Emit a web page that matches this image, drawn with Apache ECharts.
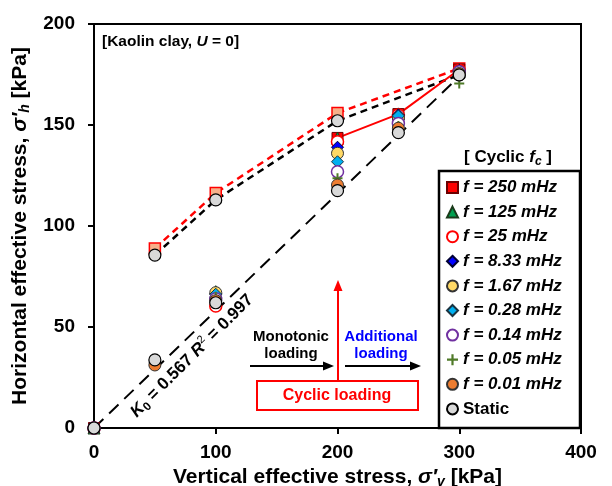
<!DOCTYPE html>
<html>
<head>
<meta charset="utf-8">
<script src="https://cdn.jsdelivr.net/npm/echarts@6/dist/echarts.min.js"></script>
<style>html,body{margin:0;padding:0;background:#fff;}#c{width:612px;height:486px;}</style>
</head>
<body>
<div id="c"></div>
<script>
// ---- data (kPa) ----
const xValues = [0, 50, 100, 200, 250, 300];
const xTicks = [0, 100, 200, 300, 400];
const yTicks = [0, 50, 100, 150, 200];
const seriesNames = ['f = 250 mHz','f = 125 mHz','f = 25 mHz','f = 8.33 mHz','f = 1.67 mHz','f = 0.28 mHz','f = 0.14 mHz','f = 0.05 mHz','f = 0.01 mHz','Static'];
const f250  = [0, null, null, 143.6, 155.4, 177.5];
const f125  = [0, null, 67.5, 143.5, 155.5, 177.5];
const f25   = [0, null, 60.4, 141.7, 155.0, 177.0];
const f833  = [0, null, 66.5, 139.0, 155.0, 177.0];
const f167  = [0, null, 67.0, 136.0, 153.5, 176.5];
const f028  = [0, null, 66.2, 131.8, 154.5, 176.5];
const f014  = [0, null, 64.0, 126.9, 150.8, 176.4];
const f005  = [0, null, 65.0, 123.6, 149.5, 170.6];
const f001  = [0, 31.2, 63.0, 120.3, 148.4, 175.5];
const fStatic = [0, 33.7, 62.0, 117.5, 146.2, 174.8];
// monotonic reference paths (upper)
const upper250    = [null, 88.9, 116.3, 155.9, null, 178.0];
const upperStatic = [null, 85.6, 112.9, 152.1, null, 174.8];
// K0 line end points
const k0X = [0, 300];
const k0Y = [0, 174];
const cyclicStartX = 200;

function pts(ys){ return xValues.map((x,i)=>[x, ys[i]]).filter(p=>p[1]!==null && p[1]!==undefined); }

const FONT = '"Liberation Sans", Arial, sans-serif';
const plus = 'path://M4,0 L6,0 L6,4 L10,4 L10,6 L6,6 L6,10 L4,10 L4,6 L0,6 L0,4 L4,4 Z';

const styles = [
  {symbol:'rect', color:'#ff0000', border:'#6b0000', bw:1},
  {symbol:'triangle', color:'#00a050', border:'#1a3a1a', bw:1},
  {symbol:'circle', color:'#ffffff', border:'#ff0000', bw:1.5},
  {symbol:'diamond', color:'#0000ff', border:'#000033', bw:1},
  {symbol:'circle', color:'#ffd966', border:'#333333', bw:1},
  {symbol:'diamond', color:'#00b0f0', border:'#1a3340', bw:1},
  {symbol:'circle', color:'#ffffff', border:'#7030a0', bw:1.5},
  {symbol:plus, color:'#4f7a28', border:'#4f7a28', bw:0},
  {symbol:'circle', color:'#ed7d31', border:'#333333', bw:1},
  {symbol:'circle', color:'#d9d9d9', border:'#000000', bw:1.2}
];
const dataSets = [f250,f125,f25,f833,f167,f028,f014,f005,f001,fStatic];

const series = [];
series.push({
  type:'line', name:'K0', data:k0X.map((x,i)=>[x,k0Y[i]]), symbol:'none', silent:true,
  lineStyle:{color:'#000', width:2, type:[13,8]}, z:1
});
series.push({
  type:'line', name:'upper250', data:pts(upper250), symbol:'rect', symbolSize:11,
  itemStyle:{color:'#f7b08a', borderColor:'#ff0000', borderWidth:1.5},
  lineStyle:{color:'#ff0000', width:2.5, type:[7,5]}, z:2
});
series.push({
  type:'line', name:'upperStatic', data:pts(upperStatic), symbol:'circle', symbolSize:12,
  itemStyle:{color:'#d9d9d9', borderColor:'#000', borderWidth:1.2},
  lineStyle:{color:'#000', width:2.5, type:[7,5]}, z:2
});
series.push({
  type:'line', name:'cyclic250', data:pts(f250).filter(p=>p[0]>=cyclicStartX), symbol:'none',
  lineStyle:{color:'#ff0000', width:2}, z:2
});
seriesNames.forEach((n,i)=>{
  const s = styles[i];
  series.push({
    type:'scatter', name:n, data:pts(dataSets[i]), symbol:s.symbol,
    symbolSize: s.symbol===plus ? 10 : (s.symbol==='rect' ? 11 : 12),
    itemStyle:{color:s.color, borderColor:s.border, borderWidth:s.bw, opacity:1}, z:3
  });
});

const chart = echarts.init(document.getElementById('c'), null, {renderer:'canvas'});
const axisLabel = {color:'#000', fontSize:19, fontWeight:'bold', fontFamily:FONT};
const nameRich = {
  b:{fontSize:21, fontWeight:'bold', fontFamily:FONT, color:'#000'},
  i:{fontSize:21, fontWeight:'bold', fontStyle:'italic', fontFamily:FONT, color:'#000'},
  s:{fontSize:14, fontWeight:'bold', fontStyle:'italic', fontFamily:FONT, color:'#000', verticalAlign:'bottom', padding:[10,0,0,0]}
};

chart.setOption({
  animation:false,
  backgroundColor:'#fff',
  grid:{left:94, right:31, top:24, bottom:58, show:true, borderColor:'#000', borderWidth:2, backgroundColor:'transparent',
        containLabel:false, outerBoundsMode:'none'},
  xAxis:{
    type:'value', min:xTicks[0], max:xTicks[xTicks.length-1], interval:100,
    name:'{b|Vertical effective stress, }{i|\u03c3\u2032}{s|v}{b| [kPa]}',
    nameLocation:'middle', nameGap:29, nameTextStyle:{rich:nameRich},
    axisLine:{show:true, lineStyle:{color:'#000', width:2}},
    axisTick:{show:true, length:6, lineStyle:{color:'#000', width:2}},
    axisLabel:Object.assign({margin:15}, axisLabel),
    splitLine:{show:false}
  },
  yAxis:{
    type:'value', min:yTicks[0], max:yTicks[yTicks.length-1], interval:50,
    name:'{b|Horizontal effective stress, }{i|\u03c3\u2032}{s|h}{b| [kPa]}',
    nameLocation:'middle', nameGap:60, nameTextStyle:{rich:nameRich},
    axisLine:{show:true, lineStyle:{color:'#000', width:2}},
    axisTick:{show:true, length:6, lineStyle:{color:'#000', width:2}},
    axisLabel:Object.assign({margin:19}, axisLabel),
    splitLine:{show:false}
  },
  legend:{
    data:seriesNames, orient:'vertical', left:446, top:178, padding:0,
    itemWidth:11, itemHeight:11, itemGap:5.6, z:10, selectedMode:false,
    formatter:function(n){ return n==='Static' ? '{n|Static}' : '{i|'+n+'}'; },
    textStyle:{lineHeight:19, rich:{
      i:{fontSize:17, fontWeight:'bold', fontStyle:'italic', fontFamily:FONT, color:'#000', lineHeight:19},
      n:{fontSize:17, fontWeight:'bold', fontFamily:FONT, color:'#000', lineHeight:19}
    }}
  },
  graphic:[
    {type:'rect', z:5, shape:{x:439, y:171, width:141, height:257}, style:{fill:'#fff', stroke:'#000', lineWidth:2.5}},
    {type:'text', z:6, x:508, y:157, style:{
      text:'{b|[ Cyclic }{i|f}{s|c}{b| ]}', align:'center', verticalAlign:'middle',
      rich:{
        b:{fontSize:17, fontWeight:'bold', fontFamily:FONT, fill:'#000'},
        i:{fontSize:17, fontWeight:'bold', fontStyle:'italic', fontFamily:FONT, fill:'#000'},
        s:{fontSize:12, fontWeight:'bold', fontStyle:'italic', fontFamily:FONT, fill:'#000', verticalAlign:'bottom', padding:[9,0,0,0]}
      }}},
    {type:'text', z:6, x:102, y:42, style:{
      text:'{b|[Kaolin clay, }{i|U}{b| = 0]}', align:'left', verticalAlign:'middle',
      rich:{
        b:{fontSize:15.5, fontWeight:'bold', fontFamily:FONT, fill:'#000'},
        i:{fontSize:15.5, fontWeight:'bold', fontStyle:'italic', fontFamily:FONT, fill:'#000'}
      }}},
    {type:'text', z:6, x:192, y:356, rotation:Math.PI/4, style:{
      text:'{i|K}{s|0}{b| = 0.567 }{i|R}{p|2}{b| = 0.997}', align:'center', verticalAlign:'middle',
      rich:{
        b:{fontSize:17, fontWeight:'bold', fontFamily:FONT, fill:'#000'},
        i:{fontSize:17, fontWeight:'bold', fontStyle:'italic', fontFamily:FONT, fill:'#000'},
        s:{fontSize:12, fontWeight:'bold', fontFamily:FONT, fill:'#000', verticalAlign:'bottom', padding:[9,0,0,0]},
        p:{fontSize:11, fontFamily:FONT, fill:'#000', verticalAlign:'top', padding:[0,0,8,0]}
      }}},
    {type:'text', z:6, x:291, y:345, style:{
      text:'Monotonic\nloading', align:'center', verticalAlign:'middle', lineHeight:17,
      fontSize:15, fontWeight:'bold', fontFamily:FONT, fill:'#000'}},
    {type:'text', z:6, x:381, y:345, style:{
      text:'Additional\nloading', align:'center', verticalAlign:'middle', lineHeight:17,
      fontSize:15, fontWeight:'bold', fontFamily:FONT, fill:'#0000ff'}},
    {type:'line', z:6, shape:{x1:250, y1:366, x2:325, y2:366}, style:{stroke:'#000', lineWidth:2}},
    {type:'polygon', z:6, shape:{points:[[334,366],[323,361.5],[323,370.5]]}, style:{fill:'#000'}},
    {type:'line', z:6, shape:{x1:345, y1:366, x2:412, y2:366}, style:{stroke:'#000', lineWidth:2}},
    {type:'polygon', z:6, shape:{points:[[421,366],[410,361.5],[410,370.5]]}, style:{fill:'#000'}},
    {type:'line', z:6, shape:{x1:338, y1:381, x2:338, y2:290}, style:{stroke:'#ff0000', lineWidth:2}},
    {type:'polygon', z:6, shape:{points:[[338,280],[333.5,291],[342.5,291]]}, style:{fill:'#ff0000'}},
    {type:'rect', z:6, shape:{x:257, y:381, width:161, height:29}, style:{fill:'#fff', stroke:'#ff0000', lineWidth:2}},
    {type:'text', z:7, x:337, y:396, style:{
      text:'Cyclic loading', align:'center', verticalAlign:'middle',
      fontSize:16, fontWeight:'bold', fontFamily:FONT, fill:'#ff0000'}}
  ],
  series:series
});
</script>
</body>
</html>
